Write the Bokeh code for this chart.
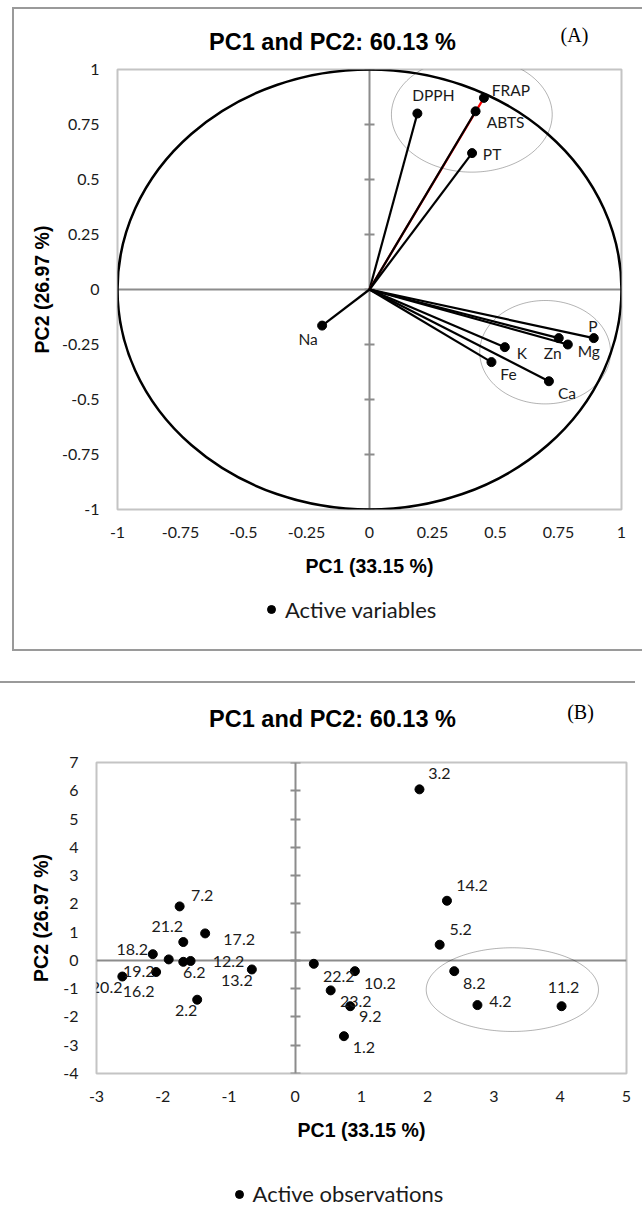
from bokeh.plotting import figure
from bokeh.models import (ColumnDataSource, FixedTicker, LinearAxis, Span, Label,
                          Legend, LegendItem, Range1d, PolyAnnotation)
from bokeh.layouts import column
from bokeh.embed import file_html
from bokeh.resources import INLINE
from bokeh.core.properties import value
import numpy as np

# ---- (A) correlation circle: active variables on PC1 / PC2 ----
var_names = ["DPPH", "FRAP", "ABTS", "PT", "Na", "K", "Zn", "Mg", "P", "Fe", "Ca"]
var_pc1 = [0.190, 0.454, 0.421, 0.407, -0.188, 0.537, 0.751, 0.787, 0.890, 0.484, 0.712]
var_pc2 = [0.800, 0.871, 0.810, 0.620, -0.164, -0.262, -0.221, -0.250, -0.221, -0.330, -0.417]
var_colors = ["black", "red", "black", "black", "black", "black", "black", "black", "black", "black", "black"]

# ---- (B) observation scores on PC1 / PC2 ----
obs_names = ["1.2", "2.2", "3.2", "4.2", "5.2", "6.2", "7.2", "8.2", "9.2", "10.2", "11.2",
             "12.2", "13.2", "14.2", "16.2", "17.2", "18.2", "19.2", "20.2", "21.2", "22.2", "23.2"]
obs_pc1 = [0.735, -1.48, 1.875, 2.75, 2.18, -1.69, -1.745, 2.40, 0.83, 0.90, 4.02,
           -1.58, -0.655, 2.29, -2.10, -1.36, -2.15, -1.91, -2.61, -1.69, 0.28, 0.535]
obs_pc2 = [-2.68, -1.39, 6.05, -1.58, 0.555, -0.05, 1.91, -0.38, -1.62, -0.38, -1.62,
           -0.02, -0.32, 2.11, -0.41, 0.955, 0.22, 0.035, -0.57, 0.65, -0.12, -1.06]

# axis ticks and their printed labels
corr_ticks = [-1, -0.75, -0.5, -0.25, 0, 0.25, 0.5, 0.75, 1]
corr_tick_labels = ["-1", "-0.75", "-0.5", "-0.25", "0", "0.25", "0.5", "0.75", "1"]
obs_x_ticks = [-3, -2, -1, 0, 1, 2, 3, 4, 5]
obs_x_tick_labels = ["-3", "-2", "-1", "0", "1", "2", "3", "4", "5"]
obs_y_ticks = [-4, -3, -2, -1, 0, 1, 2, 3, 4, 5, 6, 7]
obs_y_tick_labels = ["-4", "-3", "-2", "-1", "0", "1", "2", "3", "4", "5", "6", "7"]

TITLE = "PC1 and PC2: 60.13 %"
X_TITLE = "PC1 (33.15 %)"
Y_TITLE = "PC2 (26.97 %)"

# label nudges in pixels (right, down)
var_label_dx = [16, 27, 30, 20, -14, 17, -6, 21, -1, 17, 18]
var_label_dy = [-19, -8, 11, 1, 13, 6, 15, 6, -12, 12, 12]
obs_label_dx = [20, -11, 20, 23, 21, 11, 22.5, 20, 20, 25, 2,
                38, -15, 25, -17.5, 34, -20.5, -30, -15.7, -16, 25, 25]
obs_label_dy = [11, 11, -15.5, -4, -15, 11, -11, 12, 10, 12, -19,
                1, 11.5, -15, 19, 6, -5, 12.5, 10.7, -16, 13, 11]

# grouping rings: centre x, centre y, width, height (data units)
var_rings = [(0.406, 0.795, 0.638, 0.523), (0.697, -0.285, 0.519, 0.470)]
obs_rings = [(3.277, -1.033, 2.60, 2.96)]

LABEL_FONT = "Lato"
BOLD_FONT = "Liberation Sans"
TAG_FONT = "Liberation Serif"
AXIS_GREY = "#8c8c8c"
FRAME_GREY = "#c4c4c4"
BOX_GREY = "#9a9a9a"
TEXT_COL = "#1a1a1a"

# box outlines are drawn as offset shadows so they take no room from the canvases
EDGE_LEFT = f"-2px 0 0 0 {BOX_GREY}"
EDGE_TOP = f"-2px -2px 0 0 {BOX_GREY}, 0 -2px 0 0 {BOX_GREY}, {EDGE_LEFT}"
EDGE_BOTTOM = f"-2px 2px 0 0 {BOX_GREY}, 0 2px 0 0 {BOX_GREY}, {EDGE_LEFT}"
EDGE_TOP_ONLY = f"0 -2px 0 0 {BOX_GREY}"

# every figure in the column shares these side borders so their plot areas line up
SIDE_L, SIDE_R = 103, 9
BOX_A_W, BOX_A_X = 628, 14     # box A strips reach the right edge of the page
PLOT_A_W = 616
BOX_B_W, BOX_B_X = 649, -7


def ring(p, cx, cy, w, h):
    t = np.linspace(0, 2 * np.pi, 241)
    p.add_layout(PolyAnnotation(xs=list(cx + w / 2 * np.cos(t)), ys=list(cy + h / 2 * np.sin(t)),
                                xs_units="data", ys_units="data",
                                fill_alpha=0, line_color="black", line_width=1))


def strip(width, height, **kw):
    """Axis-free strip holding the heading or the legend row of a chart box."""
    s = figure(width=width, height=height, title=None,
               x_range=Range1d(10, 11), y_range=Range1d(10, 11),
               x_axis_location=None, y_axis_location=None,
               output_backend="svg", toolbar_location=None,
               min_border_left=SIDE_L, min_border_right=SIDE_R, min_border_top=0, min_border_bottom=0,
               outline_line_color=None, background_fill_color="white",
               border_fill_color="white", **kw)
    s.grid.visible = False
    return s


def heading(s, title_xy, tag, tag_xy):
    s.add_layout(Label(x=title_xy[0], y=title_xy[1], x_units="screen", y_units="screen",
                       text=TITLE, text_font=BOLD_FONT, text_font_style="bold",
                       text_font_size="23.5px", text_color="black",
                       text_align="center", text_baseline="middle"))
    s.add_layout(Label(x=tag_xy[0], y=tag_xy[1], x_units="screen", y_units="screen",
                       text=tag, text_font=TAG_FONT, text_font_size="20px", text_color="black",
                       text_align="center", text_baseline="middle"))


def legend_row(s, source, text, loc):
    # the swatch renderer shares the panel's data; the strip's ranges keep its points out of view
    swatch = s.scatter(x="x", y="y", source=source, size=9, fill_color="black", line_color="black")
    s.add_layout(Legend(items=[LegendItem(label=text, renderers=[swatch])],
                        location=loc, orientation="horizontal",
                        glyph_width=20, glyph_height=20, label_standoff=4,
                        padding=0, spacing=0, margin=0,
                        border_line_color=None, background_fill_alpha=0,
                        label_text_font=LABEL_FONT, label_text_font_size="22px",
                        label_text_color=TEXT_COL))


def style_panel(p, xticks, xlabels, yticks, ylabels, y_title_standoff):
    p.grid.visible = False
    p.xaxis.ticker = FixedTicker(ticks=xticks)
    p.xaxis.major_label_overrides = {float(t): s for t, s in zip(xticks, xlabels)}
    p.yaxis.ticker = FixedTicker(ticks=yticks)
    p.yaxis.major_label_overrides = {float(t): s for t, s in zip(yticks, ylabels)}
    for ax in (p.xaxis[0], p.yaxis[0]):
        ax.axis_line_color = None
        ax.major_tick_line_color = None
        ax.minor_tick_line_color = None
        ax.major_tick_out = 0
        ax.major_tick_in = 0
        ax.major_label_text_font = LABEL_FONT
        ax.major_label_text_font_size = "16px"
        ax.major_label_text_color = TEXT_COL
        ax.axis_label_text_font = BOLD_FONT
        ax.axis_label_text_font_style = "bold"
        ax.axis_label_text_font_size = "19.5px"
        ax.axis_label_text_color = "black"
    p.xaxis.axis_label = X_TITLE
    p.yaxis.axis_label = Y_TITLE
    p.xaxis.major_label_standoff = 17
    p.xaxis.axis_label_standoff = 14
    p.yaxis.major_label_standoff = 18
    p.yaxis.axis_label_standoff = y_title_standoff

    # zero lines inside the plot area (tick marks only, no printed labels)
    zero_axis = LinearAxis(fixed_location=0, ticker=FixedTicker(ticks=yticks),
                           axis_line_color=AXIS_GREY, axis_line_width=2,
                           major_tick_in=5, major_tick_out=5,
                           major_tick_line_color=AXIS_GREY, major_tick_line_width=2,
                           minor_tick_line_color=None,
                           major_label_overrides={float(t): "" for t in yticks},
                           major_label_standoff=0, level="underlay")
    p.add_layout(zero_axis, "left")
    p.add_layout(Span(location=0, dimension="width", line_color=AXIS_GREY,
                      line_width=2, level="underlay"))


# ---------------- box A: correlation circle ----------------
headA = strip(BOX_A_W, 50, margin=(9, 0, 0, BOX_A_X), styles={"box-shadow": EDGE_TOP})
heading(headA, (215, 18), "(A)", (457, 24.5))

p1 = figure(width=PLOT_A_W, height=540, title=None,
            x_range=Range1d(-1, 1), y_range=Range1d(-1, 1),
            output_backend="svg", toolbar_location=None,
            min_border_left=SIDE_L, min_border_right=SIDE_R, min_border_top=10, min_border_bottom=90,
            outline_line_color=FRAME_GREY, outline_line_width=2,
            background_fill_color="white", border_fill_color="white",
            margin=(0, 0, 0, BOX_A_X), styles={"box-shadow": EDGE_LEFT})
style_panel(p1, corr_ticks, corr_tick_labels, corr_ticks, corr_tick_labels, y_title_standoff=6)

# unit circle of correlations
p1.ellipse(x=0, y=0, width=2, height=2, fill_color=None, line_color="black", line_width=2.5)
for cx, cy, w, h in var_rings:
    ring(p1, cx, cy, w, h)

vsrc = ColumnDataSource(dict(x=var_pc1, y=var_pc2, name=var_names, color=var_colors,
                             dx=var_label_dx, dy=var_label_dy,
                             x0=[0.0] * len(var_pc1), y0=[0.0] * len(var_pc2)))
p1.segment(x0="x0", y0="y0", x1="x", y1="y", source=vsrc, line_color="color", line_width=2.2)
p1.scatter(x="x", y="y", source=vsrc, size=9, fill_color="black", line_color="black")
p1.text(x="x", y="y", text="name", x_offset="dx", y_offset="dy", source=vsrc,
        text_font=value(LABEL_FONT), text_font_size="15.5px", text_color=TEXT_COL,
        text_align="center", text_baseline="middle")

footA = strip(BOX_A_W, 50, margin=(0, 0, 0, BOX_A_X), styles={"box-shadow": EDGE_BOTTOM})
legend_row(footA, vsrc, "Active variables", (144, 26.3))

# ---------------- box B: observations ----------------
headB = strip(BOX_B_W, 69, margin=(34, 0, 0, BOX_B_X), styles={"box-shadow": EDGE_TOP_ONLY})
heading(headB, (236, 34), "(B)", (484, 40.5))

p2 = figure(width=BOX_B_W, height=407, title=None,
            x_range=Range1d(-3, 5), y_range=Range1d(-4, 7),
            output_backend="svg", toolbar_location=None,
            min_border_left=SIDE_L, min_border_right=SIDE_R, min_border_top=10, min_border_bottom=86,
            outline_line_color=FRAME_GREY, outline_line_width=2,
            background_fill_color="white", border_fill_color="white",
            margin=(0, 0, 0, BOX_B_X))
style_panel(p2, obs_x_ticks, obs_x_tick_labels, obs_y_ticks, obs_y_tick_labels, y_title_standoff=8)

for cx, cy, w, h in obs_rings:
    ring(p2, cx, cy, w, h)

osrc = ColumnDataSource(dict(x=obs_pc1, y=obs_pc2, name=obs_names,
                             dx=obs_label_dx, dy=obs_label_dy))
p2.scatter(x="x", y="y", source=osrc, size=9, fill_color="black", line_color="black")
p2.text(x="x", y="y", text="name", x_offset="dx", y_offset="dy", source=osrc,
        text_font=value(LABEL_FONT), text_font_size="16px", text_color=TEXT_COL,
        text_align="center", text_baseline="middle")

footB = strip(BOX_B_W, 70, margin=(0, 0, 0, BOX_B_X))
legend_row(footB, osrc, "Active observations", (132.6, 22))

layout = column(headA, p1, footA, headB, p2, footB, spacing=0)
open("out.html", "w").write(file_html(layout, INLINE))
